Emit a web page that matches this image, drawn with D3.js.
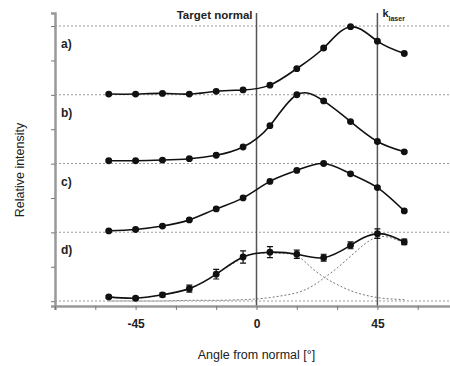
<!DOCTYPE html>
<html>
<head>
<meta charset="utf-8">
<script src="https://cdn.jsdelivr.net/npm/d3@7"></script>
<style>
  body { margin: 0; background: #fff; }
  svg { font-family: "Liberation Sans", Arial, sans-serif; }
</style>
</head>
<body>
<svg id="chart" width="450" height="366"></svg>
<script>
// Angles of the measured points (degrees from target normal)
const angles = [-55, -45, -35, -25, -15, -5, 5, 15, 25, 35, 45, 55];

// Normalised intensities, one array per panel
const seriesA = [0.01, 0.01, 0.02, 0.01, 0.05, 0.07, 0.14, 0.38, 0.68, 0.99, 0.78, 0.60];
const seriesB = [0.04, 0.04, 0.05, 0.07, 0.12, 0.24, 0.55, 1.00, 0.91, 0.61, 0.32, 0.17];
const seriesC = [0.02, 0.04, 0.09, 0.18, 0.34, 0.50, 0.74, 0.90, 1.00, 0.85, 0.65, 0.31];
const seriesD = [0.06, 0.04, 0.09, 0.18, 0.39, 0.64, 0.71, 0.68, 0.63, 0.81, 0.98, 0.86];
const errorD  = [0.02, 0.02, 0.03, 0.05, 0.07, 0.09, 0.08, 0.06, 0.05, 0.05, 0.07, 0.04];

// Two fitted components of panel d (dotted)
const compAngles = [-55, -45, -35, -25, -15, -5, 0, 5, 10, 15, 20, 25, 30, 35, 40, 45, 50, 55];
const compD1 = [0.06, 0.04, 0.09, 0.18, 0.39, 0.63, 0.69, 0.70, 0.69, 0.66, 0.50, 0.35, 0.24, 0.15, 0.09, 0.05, 0.03, 0.02];
const compD2 = [0.00, 0.00, 0.00, 0.01, 0.01, 0.02, 0.03, 0.05, 0.08, 0.12, 0.20, 0.33, 0.48, 0.65, 0.82, 0.93, 0.92, 0.84];

const panels = [
  { label: "a)", values: seriesA, offset: 3 },
  { label: "b)", values: seriesB, offset: 2 },
  { label: "c)", values: seriesC, offset: 1 },
  { label: "d)", values: seriesD, offset: 0, errors: errorD },
];

const xTicks = [-45, 0, 45];

const svg = d3.select("#chart");
const x = d3.scaleLinear().domain([-75, 75]).range([55, 458]);
const y = d3.scaleLinear().domain([0, 4]).range([301, 26]);

// dashed baselines
svg.append("g").selectAll("line")
  .data(d3.range(0, 5))
  .join("line")
  .attr("x1", x(-75)).attr("x2", 450)
  .attr("y1", (d) => y(d)).attr("y2", (d) => y(d))
  .attr("stroke", "#9a9a9a").attr("stroke-width", 1)
  .attr("stroke-dasharray", "2,2");

// reference lines at 0 and 45 degrees
svg.append("g").selectAll("line")
  .data([0, 45])
  .join("line")
  .attr("x1", (d) => x(d)).attr("x2", (d) => x(d))
  .attr("y1", 13).attr("y2", 306)
  .attr("stroke", "#555").attr("stroke-width", 1.5);

// axes
const yAxis = d3.axisLeft(y.copy().domain([-0.07, 4.19]).range([306, 13]))
  .tickValues(d3.range(0, 4.01, 0.5)).tickSize(4).tickFormat("");
const gy = svg.append("g").attr("transform", `translate(${x(-75)},0)`).call(yAxis);

const xAxis = d3.axisBottom(x).tickValues(d3.range(-75, 76, 15)).tickSize(4)
  .tickFormat((d) => (xTicks.includes(d) ? d : ""));
const gx = svg.append("g").attr("transform", "translate(0,306)").call(xAxis);

[gx, gy].forEach((g) => {
  g.select(".domain").attr("stroke", "#999").attr("stroke-width", 2.5);
  g.selectAll(".tick line").attr("stroke", "#777");
});
gx.selectAll(".tick text")
  .attr("dy", "1.25em").attr("font-size", 12).attr("font-weight", "bold")
  .attr("fill", "#222");

const line = d3.line()
  .x((d) => x(d.a))
  .y((d) => y(d.v))
  .curve(d3.curveNatural);

// dotted fit components for panel d
[compD1, compD2].forEach((comp) => {
  svg.append("path")
    .datum(compAngles.map((a, i) => ({ a, v: comp[i] })))
    .attr("d", line)
    .attr("fill", "none").attr("stroke", "#777").attr("stroke-width", 1)
    .attr("stroke-dasharray", "2,2");
});

panels.forEach((p) => {
  const pts = angles.map((a, i) => ({
    a, v: p.offset + p.values[i], e: p.errors ? p.errors[i] : 0.015,
  }));
  const g = svg.append("g");

  g.append("path").datum(pts).attr("d", line)
    .attr("fill", "none").attr("stroke", "#111").attr("stroke-width", 1.6);

  // error bars
  g.selectAll(".err").data(pts).join("path")
    .attr("d", (d) => {
      const cx = x(d.a), y0 = y(d.v - d.e), y1 = y(d.v + d.e);
      return `M${cx - 3},${y0}H${cx + 3}M${cx},${y0}V${y1}M${cx - 3},${y1}H${cx + 3}`;
    })
    .attr("stroke", "#111").attr("stroke-width", 1.2).attr("fill", "none");

  g.selectAll("circle").data(pts).join("circle")
    .attr("cx", (d) => x(d.a)).attr("cy", (d) => y(d.v))
    .attr("r", 3.4).attr("fill", "#111");

  g.append("text")
    .attr("x", 61).attr("y", y(p.offset + 1) + 22)
    .attr("font-size", 12).attr("font-weight", "bold").attr("fill", "#222")
    .text(p.label);
});

// annotations
svg.append("text")
  .attr("x", x(0) - 4).attr("y", 19).attr("text-anchor", "end")
  .attr("font-size", 11.5).attr("font-weight", "bold").attr("fill", "#222")
  .text("Target normal");
const k = svg.append("text").attr("x", x(45) + 5).attr("y", 17)
  .attr("font-size", 11).attr("font-weight", "bold").attr("fill", "#222");
k.append("tspan").text("k");
k.append("tspan").attr("dy", 4).attr("font-size", 7).text("laser");

svg.append("text")
  .attr("x", x(0)).attr("y", 359).attr("text-anchor", "middle")
  .attr("font-size", 12.5).attr("fill", "#222")
  .text("Angle from normal [°]");
svg.append("text")
  .attr("transform", "translate(24,170) rotate(-90)")
  .attr("text-anchor", "middle")
  .attr("font-size", 12.5).attr("fill", "#222")
  .text("Relative intensity");
</script>
</body>
</html>
